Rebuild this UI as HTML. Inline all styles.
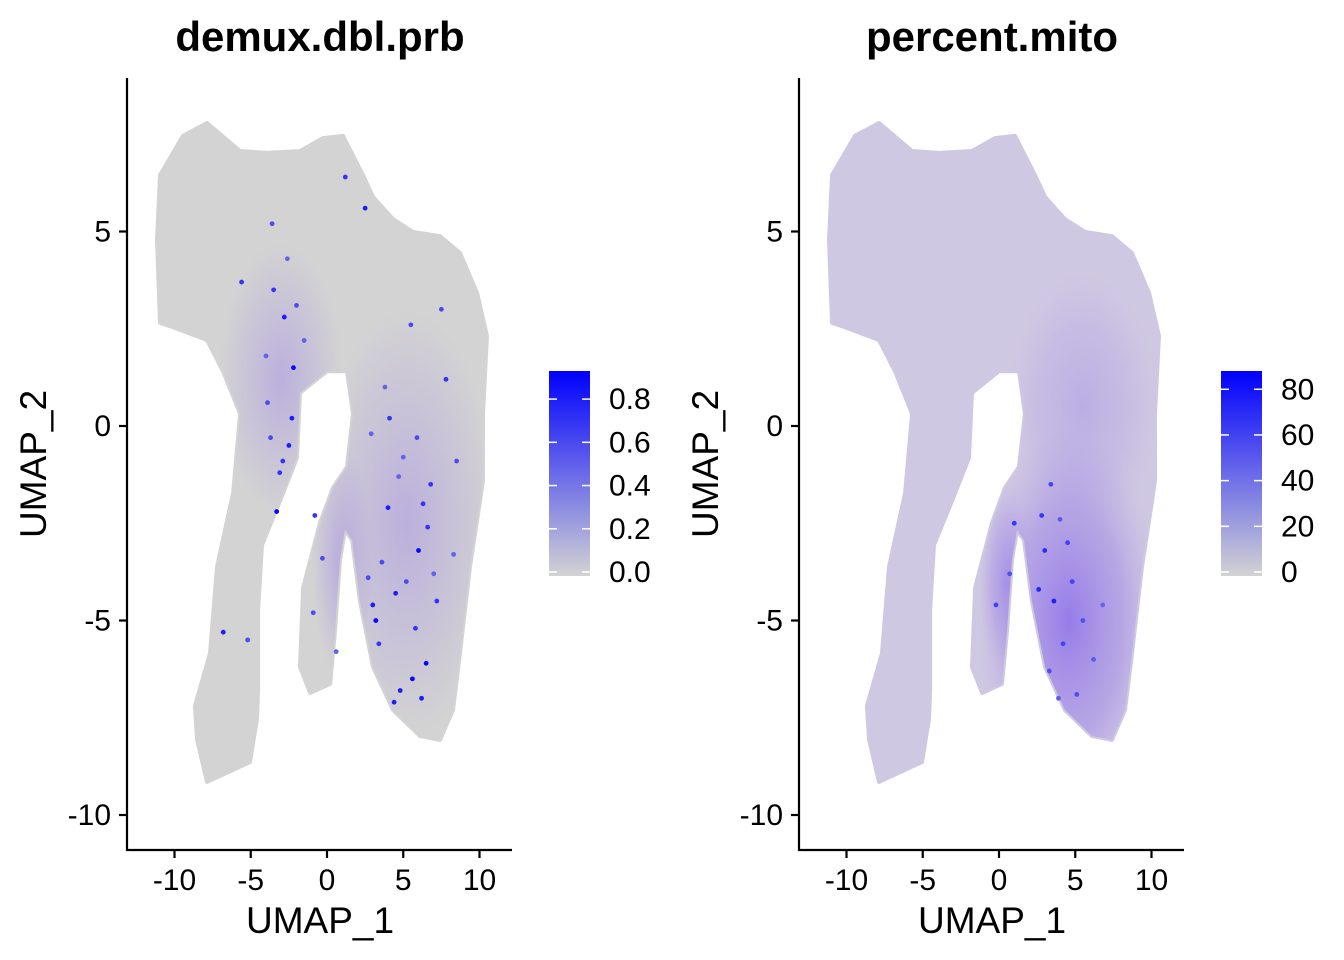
<!DOCTYPE html>
<html><head><meta charset="utf-8">
<style>
html,body{margin:0;padding:0;background:#fff;}
svg{display:block;font-family:"Liberation Sans",Arial,sans-serif;}
</style></head>
<body>
<svg id="chart" width="1344" height="960" viewBox="0 0 1344 960">
<defs>
  <radialGradient id="gradL1" cx="0.5" cy="0.5" r="0.5">
    <stop offset="0" stop-color="#a893e4" stop-opacity="0.55"/>
    <stop offset="1" stop-color="#a893e4" stop-opacity="0"/>
  </radialGradient>
  <radialGradient id="gradR1" cx="0.5" cy="0.5" r="0.5">
    <stop offset="0" stop-color="#8f74ea" stop-opacity="0.9"/>
    <stop offset="0.6" stop-color="#a48ce6" stop-opacity="0.55"/>
    <stop offset="1" stop-color="#b8a6e6" stop-opacity="0"/>
  </radialGradient>
  <linearGradient id="cbar" x1="0" y1="1" x2="0" y2="0">
    <stop offset="0" stop-color="#d3d3d3"/>
    <stop offset="1" stop-color="#0000ff"/>
  </linearGradient>
</defs>
</svg>
<script>
// UMAP cluster outline (data units)
const outlineX=[-10.95,-9.44,-7.87,-5.70,-3.93,-1.77,-0.26,1.05,2.36,3.02,4.33,5.64,7.41,8.72,9.84,10.49,10.23,10.23,10.03,9.38,8.72,8.26,7.41,6.10,4.33,3.02,2.16,1.64,1.18,0.85,0.52,0.20,-1.11,-1.77,-1.57,-0.46,0.39,1.31,1.70,1.31,0,-1.77,-1.97,-3.08,-4.26,-4.52,-4.52,-4.59,-5.05,-7.87,-8.52,-8.66,-7.67,-7.21,-6.16,-5.70,-6.82,-7.87,-10.10,-10.95,-11.15];
const outlineY=[6.45,7.46,7.79,7.07,7.02,7.07,7.40,7.46,6.45,5.89,5.32,4.99,4.88,4.45,3.42,2.31,0.31,-1.39,-1.93,-3.62,-5.84,-7.30,-8.07,-7.97,-7.30,-6.20,-4.50,-2.93,-2.67,-3.44,-5.30,-6.63,-6.86,-6.20,-4.16,-2.49,-1.59,-1.05,0.31,1.41,1.41,0.85,-0.82,-1.93,-3.06,-4.73,-6.79,-7.53,-8.64,-9.15,-8.07,-7.20,-5.84,-3.62,-1.72,0.31,1.41,2.21,2.54,2.65,4.78];
// demux.dbl.prb highlighted cells
const dblX=[-3.5,-2.8,-2.2,-3.9,-1.5,-2.5,-3.1,-4.0,-2.0,-3.3,-5.2,4.5,5.8,6.5,3.6,7.2,4.0,5.0,6.8,3.2,4.8,5.5,7.8,3.8,6.0,4.4,5.2,6.6,2.9,8.5,-5.6,-6.8,-0.3,0.6,-0.8,2.5,7.5,4.1,5.6,6.2,-2.6,-3.6,1.2,-0.9,8.3,3.0,3.4,2.7,4.7,5.9,-2.9,-2.3,-3.7,7.0,6.3];
const dblY=[3.5,2.8,1.5,0.6,2.2,-0.5,-1.2,1.8,3.1,-2.2,-5.5,-4.3,-5.2,-6.1,-3.5,-4.5,-2.1,-0.8,-1.5,-5.0,-6.8,2.6,1.2,1.0,-3.2,-7.1,-4.0,-2.6,-0.2,-0.9,3.7,-5.3,-3.4,-5.8,-2.3,5.6,3.0,0.2,-6.5,-7.0,4.3,5.2,6.4,-4.8,-3.3,-4.6,-5.6,-3.9,-1.3,-0.3,-0.9,0.2,-0.3,-3.8,-2.0];
const dblV=[0.7,0.8,0.9,0.6,0.5,0.8,0.7,0.5,0.6,0.9,0.6,0.8,0.7,0.9,0.6,0.7,0.8,0.5,0.7,0.9,0.8,0.6,0.7,0.5,0.9,0.8,0.6,0.7,0.5,0.6,0.7,0.8,0.6,0.5,0.7,0.8,0.6,0.7,0.9,0.8,0.5,0.6,0.7,0.6,0.5,0.8,0.7,0.6,0.5,0.6,0.7,0.8,0.6,0.5,0.7];
// percent.mito high cells
const mitoX=[3.0,3.6,4.2,2.8,3.3,4.8,5.5,3.9,4.5,6.2,2.6,5.1,6.8,3.4,4.0,0.7,-0.2,1.0];
const mitoY=[-3.2,-4.5,-5.6,-2.3,-6.3,-4.0,-5.0,-7.0,-3.0,-6.0,-4.2,-6.9,-4.6,-1.5,-2.4,-3.8,-4.6,-2.5];
const mitoV=[70,75,60,65,55,60,55,50,60,50,72,55,45,58,50,55,60,65];
// axis ticks and legends
const xTicks=[-10,-5,0,5,10];
const yTicks=[-10,-5,0,5];
const legL=[0.0,0.2,0.4,0.6,0.8];
const legR=[0,20,40,60,80];

const NS="http://www.w3.org/2000/svg";
const svg=document.getElementById('chart');
function el(tag,attrs,parent,text){const e=document.createElementNS(NS,tag);for(const k in attrs)e.setAttribute(k,attrs[k]);if(text!==undefined)e.textContent=text;(parent||svg).appendChild(e);return e;}
function blend(t){t=Math.max(0,Math.min(1,t));const r=Math.round(211*(1-t)),g=Math.round(211*(1-t)),b=Math.round(211+(255-211)*t);return `rgb(${r},${g},${b})`;}

function panel(off,title,base,glowId,glow,ptsX,ptsY,ptsV,vmax,leg,legMax,legLabels,pname){
  const sx=x=>327+off+15.25*x, sy=y=>426-38.9*y;
  const g=el('g',{},svg);
  
  
  const cid='clip'+off;
  const cp=el('clipPath',{id:cid},g);
  let d='';
  for(let i=0;i<outlineX.length;i++)d+=(i?'L':'M')+sx(outlineX[i]).toFixed(1)+','+sy(outlineY[i]).toFixed(1);
  d+='Z';
  el('path',{d:d,stroke:'#000','stroke-width':4,'stroke-linejoin':'round'},cp);
  const shape=el('path',{d:d,fill:base,stroke:base,'stroke-width':4,'stroke-linejoin':'round'},g);
  
  
  const gl=el('g',{'clip-path':`url(#${cid})`},g);
  for(const c of glow){
    el('ellipse',{cx:sx(c[0]),cy:sy(c[1]),rx:c[2]*15.25,ry:c[3]*38.9,fill:`url(#${glowId})`,opacity:c[4]},gl);
  }
  for(let i=0;i<ptsX.length;i++){
    const p=el('circle',{cx:sx(ptsX[i]),cy:sy(ptsY[i]),r:2.4,fill:blend(ptsV[i]/vmax)},g);
    
    
  }
  // axes
  const ax=el('g',{stroke:'#000','stroke-width':2.2},g);
  
  
  el('line',{x1:127+off,y1:78,x2:127+off,y2:851},ax);
  el('line',{x1:126+off,y1:850,x2:512+off,y2:850},ax);
  for(const t of xTicks){
    el('line',{x1:sx(t),y1:850,x2:sx(t),y2:858},ax);
    const tx=el('text',{x:sx(t),y:890,'font-size':30,'text-anchor':'middle',fill:'#000'},g,String(t));
    
    
  }
  for(const t of yTicks){
    el('line',{x1:119+off,y1:sy(t),x2:127+off,y2:sy(t)},ax);
    const ty=el('text',{x:111+off,y:sy(t)+10,'font-size':30,'text-anchor':'end',fill:'#000'},g,String(t));
    
    
  }
  const tt=el('text',{x:320+off,y:51,'font-size':42,'font-weight':'bold','text-anchor':'middle',fill:'#000'},g,title);
  
  
  const xt=el('text',{x:320+off,y:933,'font-size':37,'text-anchor':'middle',fill:'#000'},g,'UMAP_1');
  
  
  const yt=el('text',{x:0,y:0,'font-size':37,'text-anchor':'middle',fill:'#000',transform:`translate(${46+off},464) rotate(-90)`},g,'UMAP_2');
  
  
  // colorbar
  const bx=549+off, top=371, bot=576;
  const ly=v=>bot-4-(v/legMax)*(bot-4-top);
  const cb=el('rect',{x:bx,y:top,width:41,height:bot-top,fill:'url(#cbar)'},g);
  
  
  for(let i=0;i<leg.length;i++){
    const y=ly(leg[i]);
    el('line',{x1:bx,y1:y,x2:bx+8,y2:y,stroke:'#fff','stroke-width':1.5},g);
    el('line',{x1:bx+33,y1:y,x2:bx+41,y2:y,stroke:'#fff','stroke-width':1.5},g);
    const lt=el('text',{x:bx+60,y:y+10,'font-size':30,fill:'#000'},g,legLabels[i]);
    
    
  }
}
panel(0,'demux.dbl.prb','#d3d3d3','gradL1',
  [[5.2,-2.5,6,5.5,1],[-3,1.2,4,3.5,1],[1.0,-3.5,2,3,1]],
  dblX,dblY,dblV,0.93,legL,0.93,legL.map(v=>v.toFixed(1)),'panel-demux-dbl-prb');
panel(672,'percent.mito','#cfc8e2','gradR1',
  [[4.6,-5.0,6,5.0,1],[5.5,0.5,5,3.5,0.35],[0.5,-4.0,1.8,2.5,0.6]],
  mitoX,mitoY,mitoV,88,legR,88,legR.map(String),'panel-percent-mito');
</script>
</body></html>
